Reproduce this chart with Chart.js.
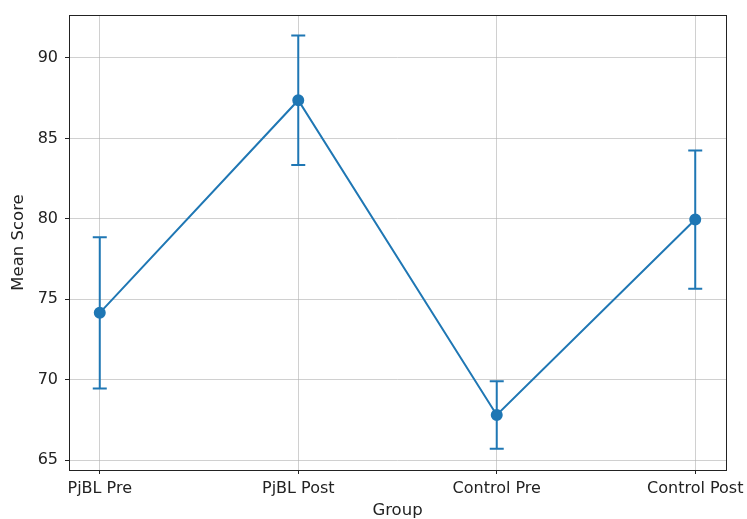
<!DOCTYPE html>
<html>
<head>
<meta charset="utf-8">
<script src="https://cdn.jsdelivr.net/npm/chart.js@4/dist/chart.umd.min.js"></script>
<style>
html,body{margin:0;padding:0;background:#fff;}
#wrap{width:747px;height:519px;position:relative;}
</style>
</head>
<body>
<div id="wrap"><canvas id="c" width="747" height="519"></canvas></div>
<script>
const categories = ["PjBL Pre", "PjBL Post", "Control Pre", "Control Post"];
const means = [74.15, 87.37, 67.8, 79.95];
const errors = [4.7, 4.02, 2.1, 4.3];
const yTicks = [65, 70, 75, 80, 85, 90];
const yRange = [64.38, 92.67];
const xRange = [-0.155, 3.155];

const points = categories.map((c, i) => ({x: i, y: means[i]}));
const color = '#1f77b4';
const tickFont = {family: '"DejaVu Sans", sans-serif', size: 16};
const titleFont = {family: '"DejaVu Sans", sans-serif', size: 16.5, lineHeight: 1.0};

const errorBarPlugin = {
  id: 'errorBars',
  beforeDatasetsDraw(chart) {
    const ctx = chart.ctx, xs = chart.scales.x, ys = chart.scales.y;
    ctx.save();
    ctx.strokeStyle = color;
    ctx.lineWidth = 2;
    means.forEach((m, i) => {
      const px = xs.getPixelForValue(i);
      const top = ys.getPixelForValue(m + errors[i]);
      const bot = ys.getPixelForValue(m - errors[i]);
      ctx.beginPath();
      ctx.moveTo(px, top); ctx.lineTo(px, bot);
      ctx.moveTo(px - 7, top); ctx.lineTo(px + 7, top);
      ctx.moveTo(px - 7, bot); ctx.lineTo(px + 7, bot);
      ctx.stroke();
    });
    ctx.restore();
  },
  afterDraw(chart) {
    const a = chart.chartArea, ctx = chart.ctx;
    ctx.save();
    ctx.strokeStyle = '#222';
    ctx.lineWidth = 1;
    ctx.strokeRect(Math.round(a.left) + 0.5, Math.round(a.top) + 0.5, Math.round(a.right - a.left), Math.round(a.bottom - a.top));
    ctx.restore();
  }
};

new Chart(document.getElementById('c'), {
  type: 'line',
  data: {
    datasets: [{
      data: points,
      borderColor: color,
      backgroundColor: color,
      borderWidth: 2,
      pointRadius: 5,
      pointHoverRadius: 5,
      pointBackgroundColor: color,
      pointBorderColor: color,
      tension: 0,
      fill: false
    }]
  },
  plugins: [errorBarPlugin],
  options: {
    responsive: false,
    animation: false,
    events: [],
    layout: {padding: {top: 15, right: 21, left: 0, bottom: 0}},
    plugins: {legend: {display: false}, tooltip: {enabled: false}},
    scales: {
      x: {
        type: 'linear',
        min: xRange[0], max: xRange[1],
        afterBuildTicks(s) { s.ticks = categories.map((c, i) => ({value: i})); },
        afterFit(s) { s.height = 49; s.paddingLeft = 0; s.paddingRight = 0; },
        ticks: {
          callback: (v) => categories[v] !== undefined ? categories[v] : '',
          font: tickFont, color: '#222', padding: 5, maxRotation: 0, autoSkip: false
        },
        grid: {color: 'rgba(176,176,176,0.6)', lineWidth: 1, tickColor: '#222', tickLength: 4},
        border: {display: false},
        title: {display: true, text: 'Group', font: titleFont, color: '#222', padding: {top: 0, bottom: 0}}
      },
      y: {
        type: 'linear',
        min: yRange[0], max: yRange[1],
        afterBuildTicks(s) { s.ticks = yTicks.map(v => ({value: v})); },
        afterFit(s) { s.width = 69; s.paddingTop = 0; s.paddingBottom = 0; },
        ticks: {font: tickFont, color: '#222', padding: 7},
        grid: {color: 'rgba(176,176,176,0.6)', lineWidth: 1, tickColor: '#222', tickLength: 4},
        border: {display: false},
        title: {display: true, text: 'Mean Score', font: titleFont, color: '#222', padding: {top: 10, bottom: 0}}
      }
    }
  }
});
</script>
</body>
</html>
